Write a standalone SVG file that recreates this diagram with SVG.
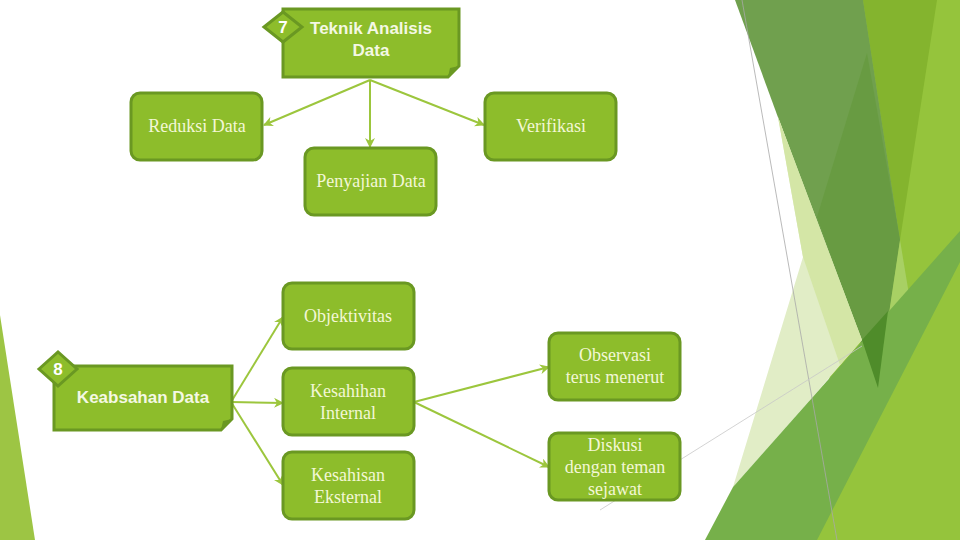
<svg xmlns="http://www.w3.org/2000/svg" width="960" height="540" viewBox="0 0 960 540">
<defs>
<style>
.box{fill:#8dbd2b;stroke:#6a9822;stroke-width:3}
.st{fill:#f3f7d6;font-family:"Liberation Serif","Times New Roman",serif;font-size:18px;text-anchor:middle}
.bt{fill:#f4f8e4;font-family:"Liberation Sans",Arial,sans-serif;font-weight:bold;font-size:17px;text-anchor:middle}
.num{fill:#ffffff;font-family:"Liberation Sans",Arial,sans-serif;font-weight:bold;font-size:17px;text-anchor:middle}
.con{stroke:#9cc63d;stroke-width:2;fill:none;marker-end:url(#ah)}
.fold{fill:#6a9822}
</style>
<marker id="ah" viewBox="0 0 10 10" refX="9" refY="5" markerWidth="5" markerHeight="5" orient="auto" markerUnits="strokeWidth">
<path d="M0,0 L10,5 L0,10 L3,5 z" fill="#9cc63d"/>
</marker>
</defs>
<rect width="960" height="540" fill="#ffffff"/>
<g id="background">
<polygon points="0,315 35,540 0,540" fill="#9dc544"/>
<polygon points="863,0 960,0 960,540 815,540" fill="#95c43c"/>
<polygon points="863,0 937,0 900,240" fill="#84b42e"/>
<polygon points="735,0 863,0 900,240 878,390" fill="#70a04e"/>
<polygon points="867,53 900,240 878,387 817,217" fill="#689b42"/>
<polygon points="900,240 917,343 873,423 878,387" fill="#a8d064"/>
<polygon points="778,117 862,340 810,400 733,487 803,257" fill="#e1edc6"/>
<polygon points="778,117 862,340 840,365 803,257" fill="#d4e6a6"/>
<polygon points="705,540 733,487 960,231 960,262 817,540" fill="#76b04a"/>
<polygon points="862,340 888,311 878,388" fill="#4f8c2a"/>
<line x1="742" y1="0" x2="837" y2="540" stroke="#a8a8a8" stroke-width="0.8"/>
<line x1="600" y1="510" x2="862" y2="346" stroke="#c8c8c8" stroke-width="0.8"/>
</g>
<g id="connectors">
<line class="con" x1="370" y1="80" x2="264" y2="125"/>
<line class="con" x1="370" y1="80" x2="370" y2="147"/>
<line class="con" x1="370" y1="80" x2="484" y2="125"/>
<line class="con" x1="231" y1="402" x2="283" y2="317"/>
<line class="con" x1="231" y1="402" x2="283" y2="403"/>
<line class="con" x1="231" y1="402" x2="283" y2="485"/>
<line class="con" x1="414" y1="402" x2="549" y2="367"/>
<line class="con" x1="414" y1="402" x2="549" y2="467"/>
</g>
<g id="node-teknik">
<path class="box" d="M283,9 H459 V66 L448,77 H283 Z"/>
<path class="fold" d="M459,66 L448,77 L450,68 Z"/>
<polygon class="box" points="264,27 283,12 302,27 283,42"/>
<text class="num" x="283" y="33">7</text>
<text class="bt" x="371" y="34">Teknik Analisis</text>
<text class="bt" x="371" y="56">Data</text>
</g>
<g id="node-reduksi">
<rect class="box" x="131" y="93" width="131" height="67" rx="9"/>
<text class="st" x="197" y="132">Reduksi Data</text>
</g>
<g id="node-verifikasi">
<rect class="box" x="485" y="93" width="131" height="67" rx="9"/>
<text class="st" x="551" y="132">Verifikasi</text>
</g>
<g id="node-penyajian">
<rect class="box" x="305" y="148" width="131" height="67" rx="9"/>
<text class="st" x="371" y="187">Penyajian Data</text>
</g>
<g id="node-keabsahan">
<path class="box" d="M54,366 H232 V419 L221,430 H54 Z"/>
<path class="fold" d="M232,419 L221,430 L223,421 Z"/>
<polygon class="box" points="39,369 58,352 77,369 58,386"/>
<text class="num" x="58" y="375">8</text>
<text class="bt" x="143" y="403">Keabsahan Data</text>
</g>
<g id="node-objektivitas">
<rect class="box" x="283" y="283" width="131" height="66" rx="9"/>
<text class="st" x="348" y="322">Objektivitas</text>
</g>
<g id="node-kesahihan">
<rect class="box" x="283" y="368" width="131" height="67" rx="9"/>
<text class="st" x="348" y="397">Kesahihan</text>
<text class="st" x="348" y="419">Internal</text>
</g>
<g id="node-kesahisan">
<rect class="box" x="283" y="452" width="131" height="67" rx="9"/>
<text class="st" x="348" y="481">Kesahisan</text>
<text class="st" x="348" y="503">Eksternal</text>
</g>
<g id="node-observasi">
<rect class="box" x="549" y="333" width="131" height="67" rx="9"/>
<text class="st" x="615" y="361">Observasi</text>
<text class="st" x="615" y="383">terus menerut</text>
</g>
<g id="node-diskusi">
<rect class="box" x="549" y="433" width="131" height="67" rx="9"/>
<text class="st" x="615" y="451">Diskusi</text>
<text class="st" x="615" y="473">dengan teman</text>
<text class="st" x="615" y="495">sejawat</text>
</g>
</svg>
